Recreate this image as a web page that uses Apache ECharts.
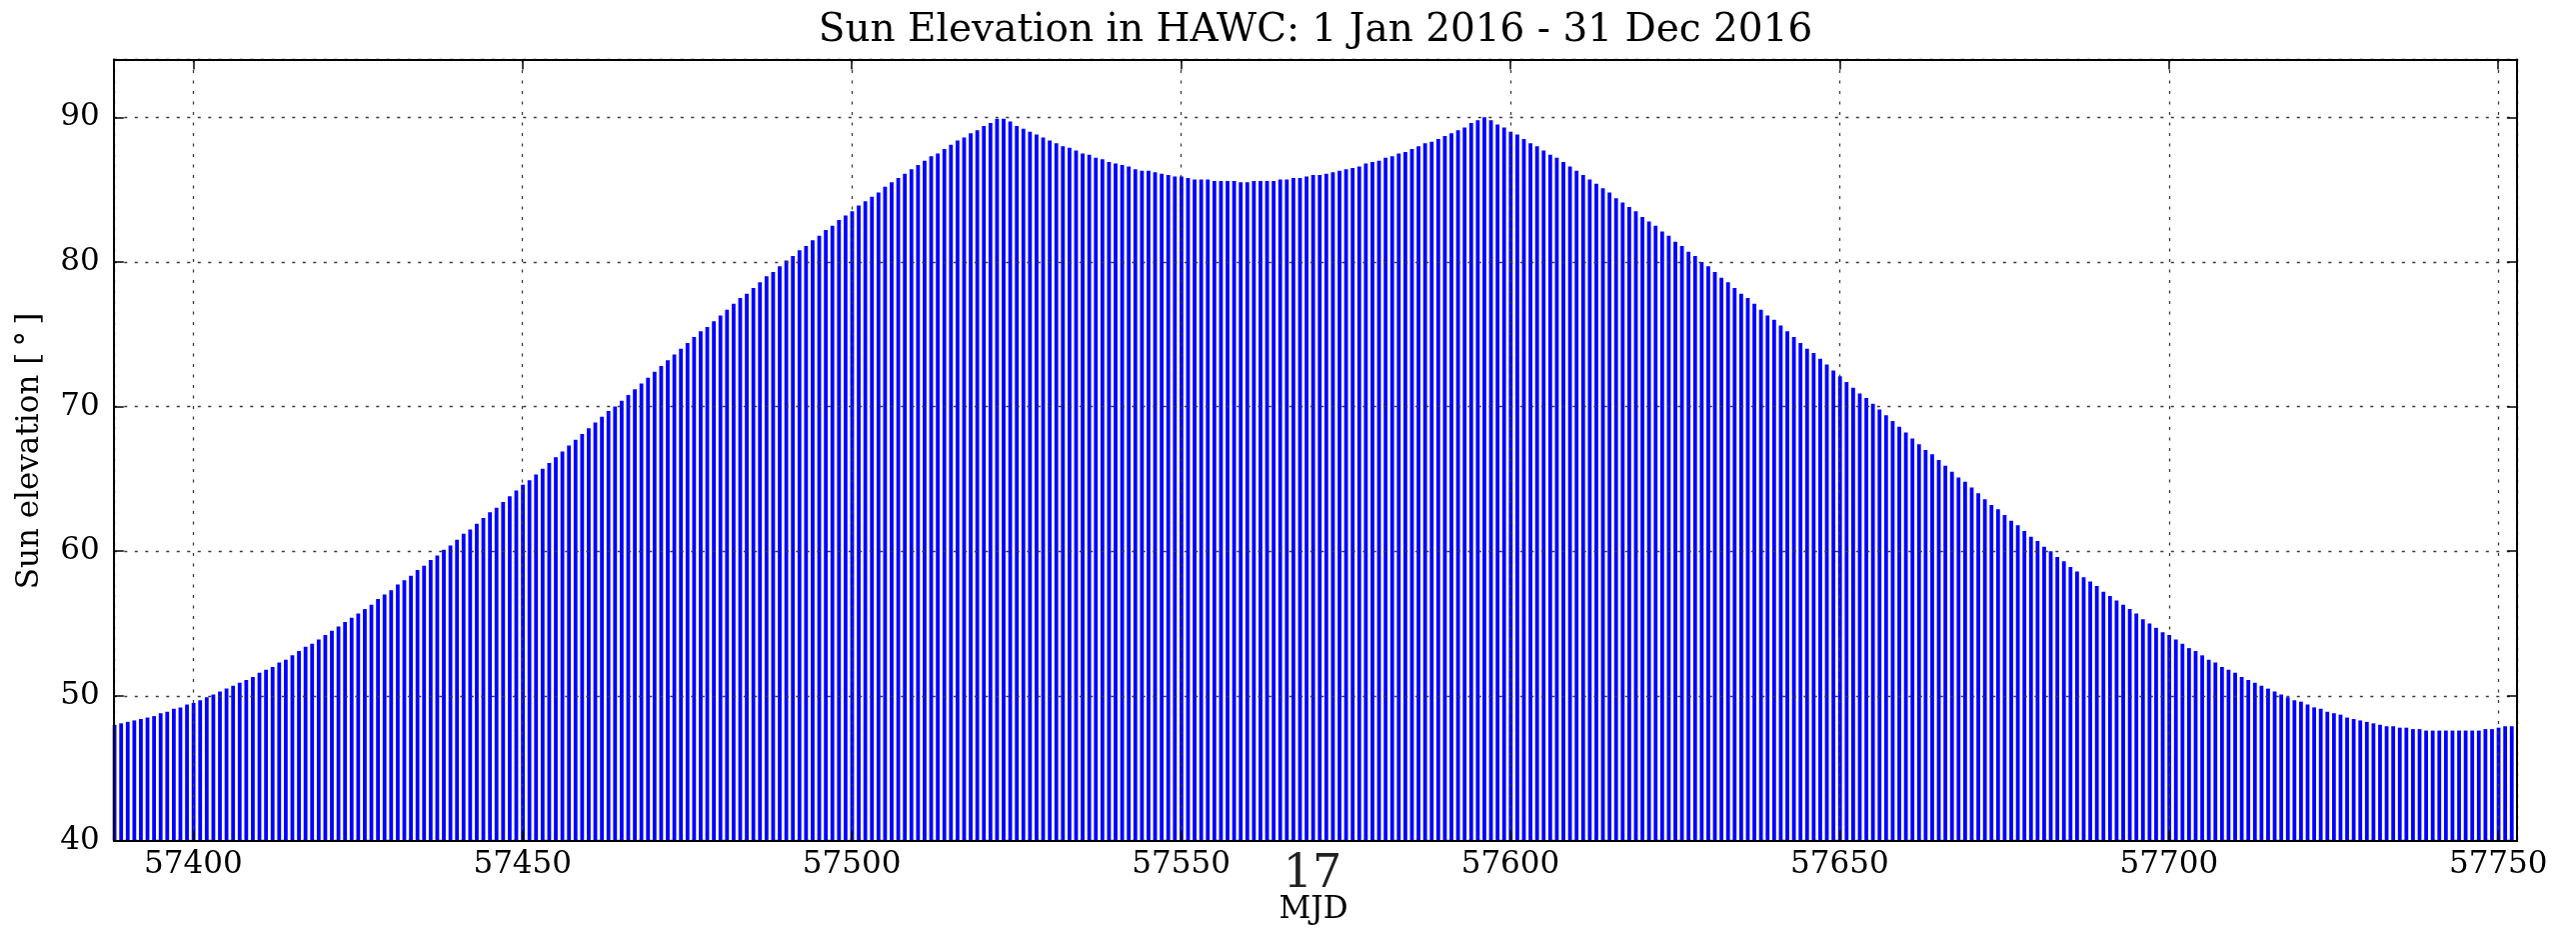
<!DOCTYPE html>
<html>
<head>
<meta charset="utf-8">
<script src="https://cdn.jsdelivr.net/npm/echarts@6/dist/echarts.min.js"></script>
<style>
html,body{margin:0;padding:0;background:#fff;}
#chart{width:2577px;height:935px;}
</style>
</head>
<body>
<div id="chart"></div>
<script>
// ---------------- data ----------------
const titleText = 'Sun Elevation in HAWC: 1 Jan 2016 - 31 Dec 2016';
const xAxisTitle = 'MJD';
const yAxisTitle = 'Sun elevation [\u2009\u00B0\u2009]';
const overlayText = '17';
const firstDayMJD = 57388;          // 1 Jan 2016
const peakTimeOffset = 0.05;        // position of each daily peak inside its MJD day
const xRange = [57387.93, 57752.88];
const yRange = [40, 94];
const xTickLabels = [57400, 57450, 57500, 57550, 57600, 57650, 57700, 57750];
const yTickLabels = [40, 50, 60, 70, 80, 90];
// daily maximum sun elevation (deg), one value per day from 1 Jan 2016
const dailyMaxElevation = [
48.0, 48.1, 48.2, 48.3, 48.4,
48.5, 48.6, 48.8, 48.9, 49.1,
49.2, 49.4, 49.5, 49.7, 49.9,
50.1, 50.3, 50.5, 50.7, 50.9,
51.1, 51.3, 51.6, 51.8, 52.0,
52.3, 52.5, 52.8, 53.1, 53.4,
53.6, 53.9, 54.2, 54.5, 54.8,
55.1, 55.4, 55.7, 56.0, 56.3,
56.7, 57.0, 57.3, 57.7, 58.0,
58.3, 58.7, 59.0, 59.4, 59.7,
60.1, 60.4, 60.8, 61.2, 61.5,
61.9, 62.3, 62.7, 63.0, 63.4,
63.8, 64.2, 64.6, 64.9, 65.3,
65.7, 66.1, 66.5, 66.9, 67.3,
67.7, 68.1, 68.5, 68.9, 69.3,
69.7, 70.0, 70.4, 70.8, 71.2,
71.6, 72.0, 72.4, 72.8, 73.2,
73.6, 74.0, 74.4, 74.8, 75.2,
75.5, 75.9, 76.3, 76.7, 77.1,
77.5, 77.8, 78.2, 78.6, 79.0,
79.3, 79.7, 80.1, 80.4, 80.8,
81.1, 81.5, 81.8, 82.2, 82.5,
82.9, 83.2, 83.5, 83.9, 84.2,
84.5, 84.8, 85.2, 85.5, 85.8,
86.1, 86.4, 86.7, 87.0, 87.3,
87.5, 87.8, 88.1, 88.4, 88.6,
88.9, 89.1, 89.4, 89.6, 89.9,
89.9, 89.7, 89.4, 89.2, 89.0,
88.8, 88.6, 88.4, 88.2, 88.0,
87.9, 87.7, 87.5, 87.4, 87.2,
87.1, 86.9, 86.8, 86.7, 86.6,
86.4, 86.3, 86.3, 86.2, 86.1,
86.0, 85.9, 85.9, 85.8, 85.7,
85.7, 85.7, 85.6, 85.6, 85.6,
85.6, 85.5, 85.5, 85.6, 85.6,
85.6, 85.6, 85.7, 85.7, 85.8,
85.8, 85.9, 86.0, 86.0, 86.1,
86.2, 86.3, 86.4, 86.5, 86.6,
86.8, 86.9, 87.0, 87.2, 87.3,
87.5, 87.6, 87.8, 88.0, 88.2,
88.3, 88.5, 88.7, 88.9, 89.1,
89.3, 89.6, 89.8, 90.0, 89.8,
89.5, 89.3, 89.0, 88.8, 88.5,
88.2, 88.0, 87.7, 87.4, 87.2,
86.9, 86.6, 86.3, 86.0, 85.7,
85.4, 85.1, 84.8, 84.4, 84.1,
83.8, 83.5, 83.1, 82.8, 82.5,
82.1, 81.8, 81.4, 81.1, 80.7,
80.4, 80.0, 79.7, 79.3, 78.9,
78.6, 78.2, 77.8, 77.5, 77.1,
76.7, 76.3, 76.0, 75.6, 75.2,
74.8, 74.4, 74.0, 73.7, 73.3,
72.9, 72.5, 72.1, 71.7, 71.3,
70.9, 70.6, 70.2, 69.8, 69.4,
69.0, 68.6, 68.2, 67.8, 67.4,
67.0, 66.7, 66.3, 65.9, 65.5,
65.1, 64.8, 64.4, 64.0, 63.6,
63.2, 62.9, 62.5, 62.1, 61.8,
61.4, 61.0, 60.7, 60.3, 60.0,
59.6, 59.3, 58.9, 58.6, 58.2,
57.9, 57.6, 57.2, 56.9, 56.6,
56.3, 56.0, 55.7, 55.3, 55.0,
54.7, 54.4, 54.2, 53.9, 53.6,
53.3, 53.1, 52.8, 52.5, 52.3,
52.0, 51.8, 51.6, 51.3, 51.1,
50.9, 50.7, 50.5, 50.3, 50.1,
49.9, 49.7, 49.6, 49.4, 49.2,
49.1, 48.9, 48.8, 48.7, 48.5,
48.4, 48.3, 48.2, 48.1, 48.0,
47.9, 47.9, 47.8, 47.8, 47.7,
47.7, 47.6, 47.6, 47.6, 47.6,
47.6, 47.6, 47.6, 47.6, 47.6,
47.7, 47.7, 47.8, 47.9, 47.9
];

// ---------------- chart ----------------
const FONT = "'DejaVu Serif', 'Liberation Serif', serif";
const seriesData = dailyMaxElevation.map((v, i) => [firstDayMJD + i + peakTimeOffset, v]);

const gridLine = { show: true, lineStyle: { color: '#3a3a3a', width: 1.3, type: [3, 7.5] } };
const axisLineStyle = { show: true, onZero: false, lineStyle: { color: '#000', width: 2 } };
const tickStyle = { show: true, inside: true, length: 10, lineStyle: { color: '#000', width: 1.5 } };

const chart = echarts.init(document.getElementById('chart'), null, { renderer: 'canvas' });
chart.setOption({
  animation: false,
  backgroundColor: '#fff',
  grid: { left: 113.8, right: 58.8, top: 59.4, bottom: 94.5, containLabel: false },
  xAxis: [
    {
      type: 'value', position: 'bottom', z: 5,
      min: xRange[0], max: xRange[1],
      splitNumber: 7, minInterval: 50, maxInterval: 50,
      axisLine: axisLineStyle, axisTick: tickStyle, splitLine: gridLine,
      axisLabel: {
        show: true, margin: 9, fontFamily: FONT, fontSize: 31, color: '#000',
        showMinLabel: false, showMaxLabel: false,
        formatter: v => (xTickLabels.includes(Math.round(v * 1000) / 1000) ? String(Math.round(v)) : '')
      }
    },
    {
      type: 'value', position: 'top', z: 5,
      min: xRange[0], max: xRange[1],
      splitNumber: 7, minInterval: 50, maxInterval: 50,
      axisLine: axisLineStyle, axisTick: tickStyle, splitLine: { show: false },
      axisLabel: { show: false }
    }
  ],
  yAxis: [
    {
      type: 'value', position: 'left', z: 5,
      min: yRange[0], max: yRange[1], interval: 10,
      axisLine: axisLineStyle, axisTick: tickStyle, splitLine: gridLine,
      axisLabel: {
        show: true, margin: 14, fontFamily: FONT, fontSize: 31, color: '#000',
        showMaxLabel: false,
        formatter: v => (yTickLabels.includes(v) ? String(v) : '')
      }
    },
    {
      type: 'value', position: 'right', z: 5,
      min: yRange[0], max: yRange[1], interval: 10,
      axisLine: axisLineStyle, axisTick: tickStyle, splitLine: { show: false },
      axisLabel: { show: false }
    }
  ],
  series: [{
    type: 'bar',
    xAxisIndex: 0, yAxisIndex: 0,
    data: seriesData,
    barWidth: 3.8,
    clip: true,
    z: 2,
    itemStyle: { color: '#0000ff' },
    emphasis: { disabled: true }
  }],
  graphic: [
    { type: 'text', x: 1316, y: 31, z: 10,
      style: { text: titleText, font: '39px ' + FONT, fill: '#000', align: 'center', verticalAlign: 'middle' } },
    { type: 'text', x: 1313, y: 875, z: 10,
      style: { text: overlayText, font: '46px ' + FONT, fill: '#222', align: 'center', verticalAlign: 'middle' } },
    { type: 'text', x: 1314, y: 910, z: 10,
      style: { text: xAxisTitle, font: '31px ' + FONT, fill: '#000', align: 'center', verticalAlign: 'middle' } },
    { type: 'text', x: 30, y: 451, rotation: Math.PI / 2, z: 10,
      style: { text: yAxisTitle, font: '31px ' + FONT, fill: '#000', align: 'center', verticalAlign: 'middle' } }
  ]
});
</script>
</body>
</html>
